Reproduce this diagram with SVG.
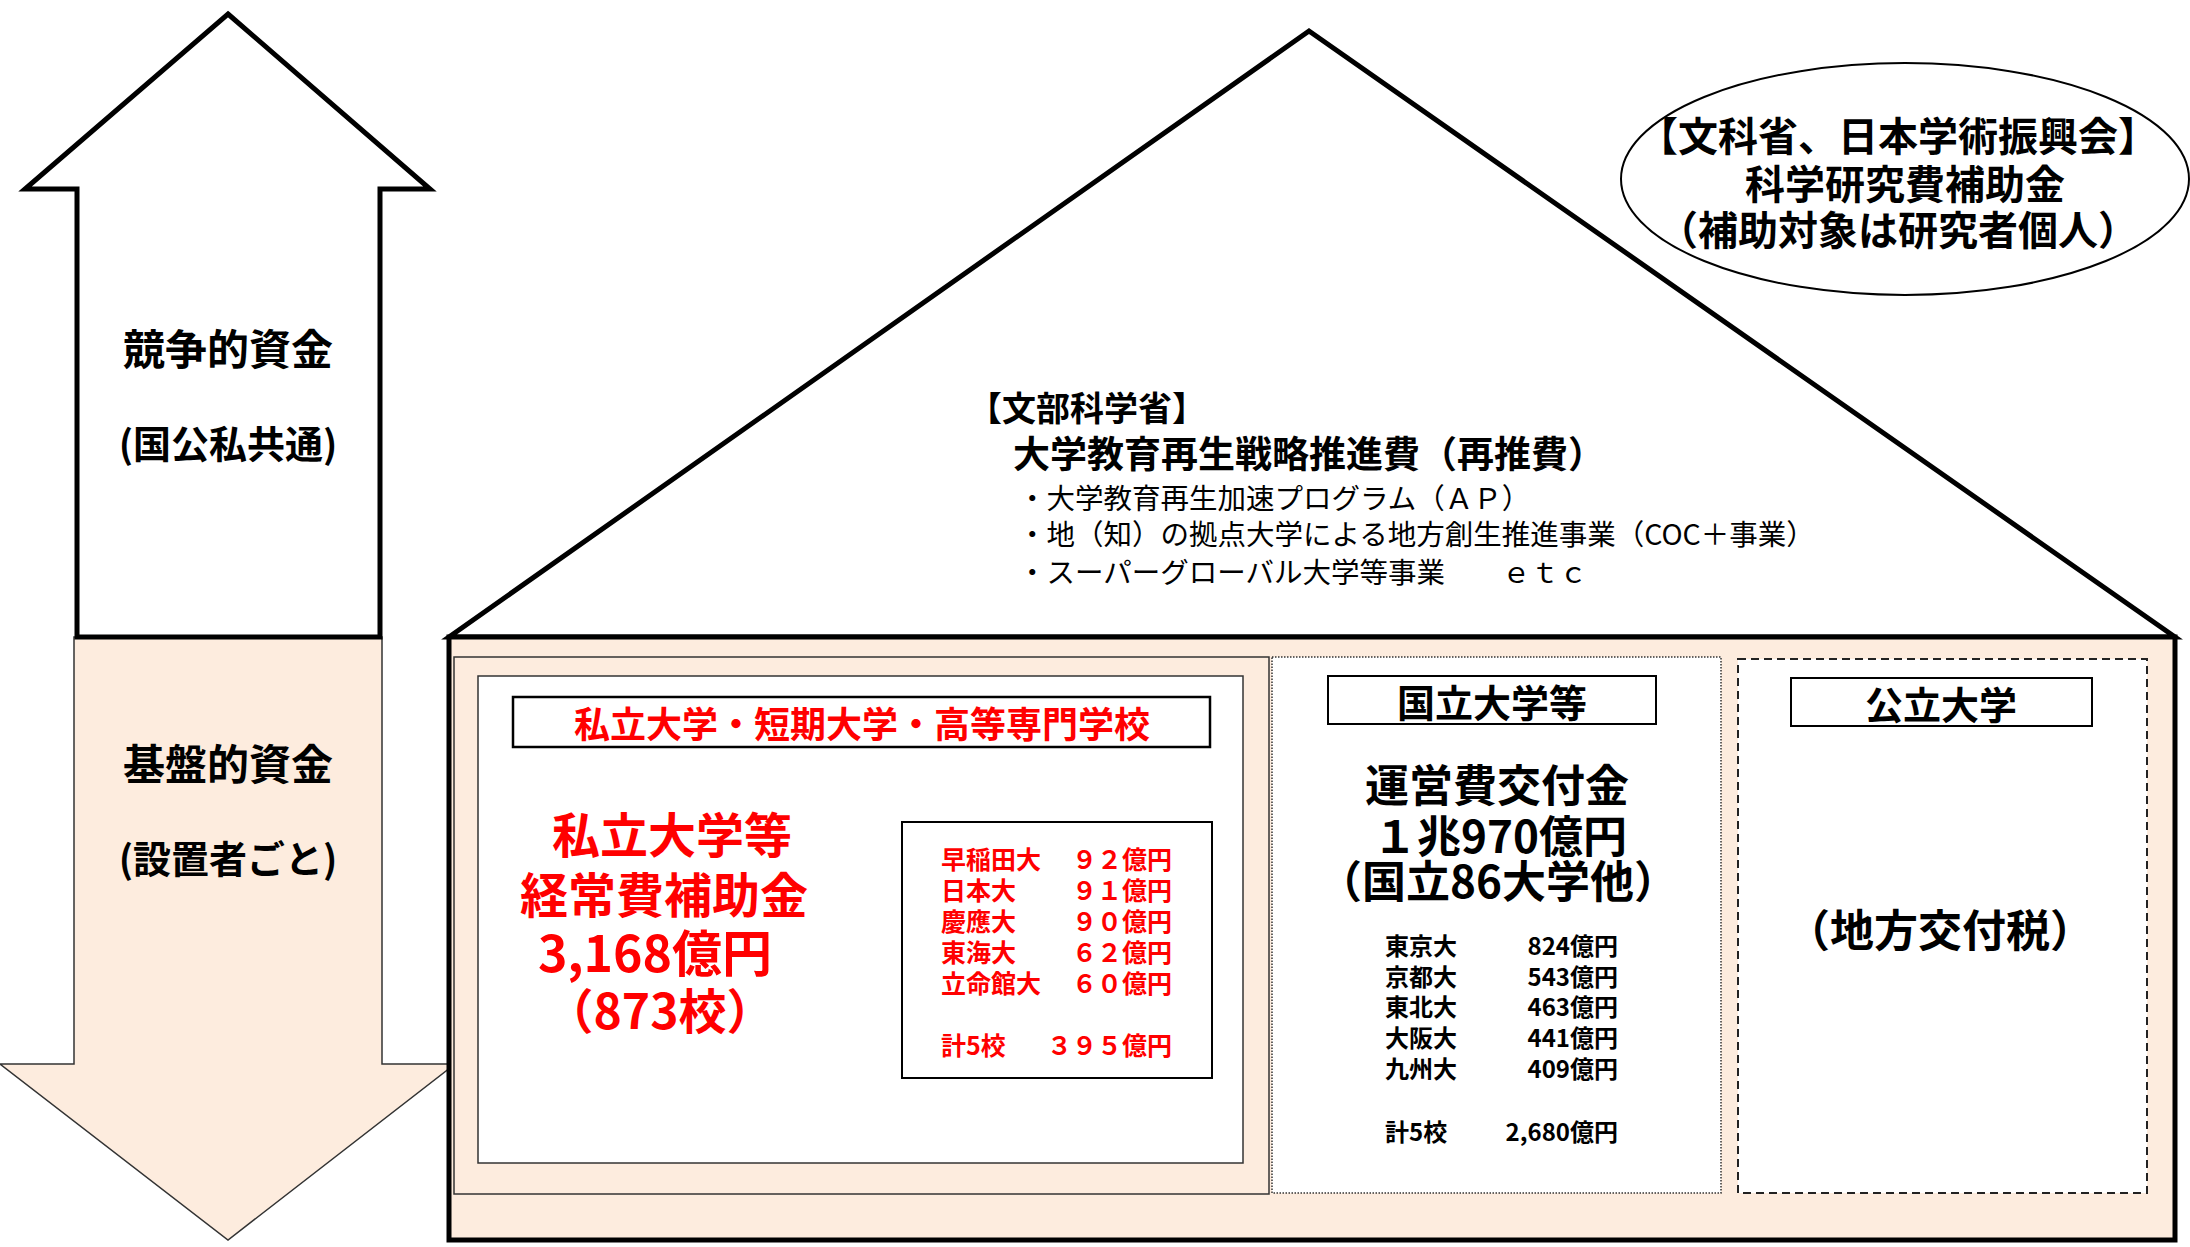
<svg xmlns="http://www.w3.org/2000/svg" width="2190" height="1247" viewBox="0 0 2190 1247">
<style>
text{font-family:"Noto Sans CJK JP","Noto Sans",sans-serif;dominant-baseline:central;fill:#000}
.b{font-weight:bold}
.r{fill:#FF0000;font-weight:bold}
.c{text-anchor:middle}
.e{text-anchor:end}
.beige{fill:#FDECDE}
.thin{stroke:#333;stroke-width:1.5}
</style>
<rect width="2190" height="1247" fill="#FFFFFF"/>

<g id="arrow-basic">
<polygon class="beige thin" points="74,637 382,637 382,1064 455,1064 228,1240 0,1064 74,1064"/>
<text class="b c" x="228" y="761" font-size="42">基盤的資金</text>
<text class="b c" x="228" y="856" font-size="38">(設置者ごと)</text>
</g>

<g id="arrow-competitive">
<polygon points="228,14 430,189 380,189 380,637 77,637 77,189 25,189" fill="#FFFFFF" stroke="#000" stroke-width="5" stroke-linejoin="miter"/>
<text class="b c" x="228" y="346" font-size="42">競争的資金</text>
<text class="b c" x="228" y="441" font-size="38">(国公私共通)</text>
</g>

<g id="house-roof">
<polygon points="449,637 1309,31 2175,637" fill="#FFFFFF" stroke="#000" stroke-width="5" stroke-linejoin="miter"/>
<text class="b" x="968" y="406" font-size="34">【文部科学省】</text>
<text class="b" x="1013" y="452" font-size="37">大学教育再生戦略推進費（再推費）</text>
<text x="1018" y="496" font-size="28.5">・大学教育再生加速プログラム（ＡＰ）</text>
<text x="1018" y="532" font-size="28.5">・地（知）の拠点大学による地方創生推進事業（COC＋事業）</text>
<text x="1018" y="570" font-size="28.5">・スーパーグローバル大学等事業　　ｅｔｃ</text>
</g>

<g id="house-body">
<rect class="beige" x="449" y="637" width="1726" height="603" stroke="#000" stroke-width="5"/>
</g>

<g id="kakenhi">
<ellipse cx="1905" cy="179" rx="284" ry="116" fill="#FFFFFF" stroke="#000" stroke-width="2"/>
<text class="b c" x="1898" y="134" font-size="40">【文科省、日本学術振興会】</text>
<text class="b c" x="1905" y="182" font-size="40">科学研究費補助金</text>
<text class="b c" x="1898" y="228" font-size="40">（補助対象は研究者個人）</text>
</g>

<g id="private-section">
<rect class="beige thin" x="454" y="657" width="815" height="537"/>
<rect x="478" y="676" width="765" height="487" fill="#FFFFFF" stroke="#333" stroke-width="1.5"/>
<rect x="513" y="697" width="697" height="50" fill="#FFFFFF" stroke="#000" stroke-width="2.5"/>
<text class="r c" x="862" y="722" font-size="36">私立大学・短期大学・高等専門学校</text>
<text class="r c" x="672" y="832" font-size="48">私立大学等</text>
<text class="r c" x="664" y="892" font-size="48">経常費補助金</text>
<text class="r c" x="655" y="950" font-size="50">3,168億円</text>
<text class="r c" x="660" y="1008" font-size="48">（873校）</text>
<rect x="902" y="822" width="310" height="256" fill="#FFFFFF" stroke="#000" stroke-width="2"/>
<g font-size="25">
<text class="r" x="941" y="858">早稲田大</text><text class="r e" x="1172" y="858">９２億円</text>
<text class="r" x="941" y="889">日本大</text><text class="r e" x="1172" y="889">９１億円</text>
<text class="r" x="941" y="920">慶應大</text><text class="r e" x="1172" y="920">９０億円</text>
<text class="r" x="941" y="951">東海大</text><text class="r e" x="1172" y="951">６２億円</text>
<text class="r" x="941" y="982">立命館大</text><text class="r e" x="1172" y="982">６０億円</text>
<text class="r" x="941" y="1044">計5校</text><text class="r e" x="1172" y="1044">３９５億円</text>
</g>
</g>

<g id="national-section">
<rect x="1272" y="657" width="449" height="536" fill="#FFFFFF" stroke="#333" stroke-width="1.5" stroke-dasharray="1.5 1.5"/>
<rect x="1328" y="676" width="328" height="48" fill="#FFFFFF" stroke="#000" stroke-width="2"/>
<text class="b c" x="1492" y="700" font-size="38">国立大学等</text>
<text class="b c" x="1497" y="783" font-size="44">運営費交付金</text>
<text class="b c" x="1500" y="834" font-size="44">１兆970億円</text>
<text class="b c" x="1498" y="879" font-size="44">（国立86大学他）</text>
<g font-size="24">
<text class="b" x="1385" y="944">東京大</text><text class="b e" x="1618" y="944">824億円</text>
<text class="b" x="1385" y="975">京都大</text><text class="b e" x="1618" y="975">543億円</text>
<text class="b" x="1385" y="1005">東北大</text><text class="b e" x="1618" y="1005">463億円</text>
<text class="b" x="1385" y="1036">大阪大</text><text class="b e" x="1618" y="1036">441億円</text>
<text class="b" x="1385" y="1067">九州大</text><text class="b e" x="1618" y="1067">409億円</text>
<text class="b" x="1385" y="1130">計5校</text><text class="b e" x="1618" y="1130">2,680億円</text>
</g>
</g>

<g id="public-section">
<rect x="1738" y="659" width="409" height="534" fill="#FFFFFF" stroke="#222" stroke-width="2" stroke-dasharray="8 5"/>
<rect x="1791" y="678" width="301" height="48" fill="#FFFFFF" stroke="#000" stroke-width="2"/>
<text class="b c" x="1941" y="702" font-size="38">公立大学</text>
<text class="b c" x="1940" y="928" font-size="44">（地方交付税）</text>
</g>
</svg>
